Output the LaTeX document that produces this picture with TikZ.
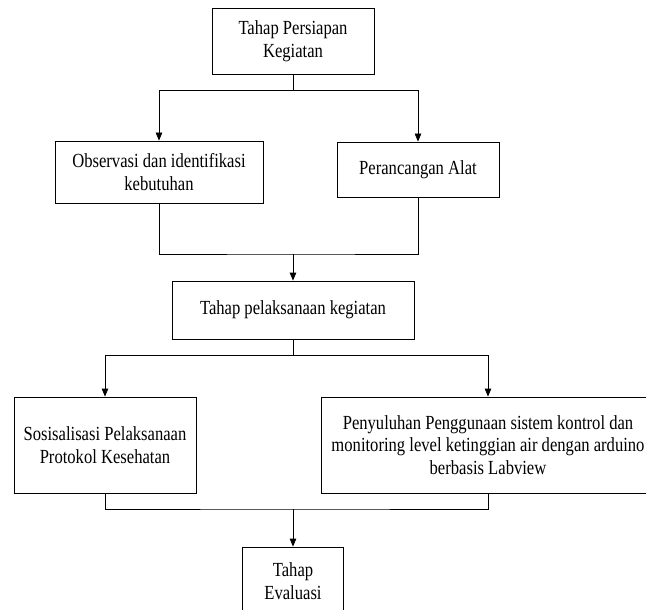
\documentclass[tikz,border=0pt]{standalone}
\usepackage{fontspec}
\setmainfont{Liberation Serif}[FakeStretch=0.83]
\usetikzlibrary{arrows.meta}

\begin{document}
\begin{tikzpicture}[
  x=1pt,
  y=-1pt,
  stage/.style={draw, line width=0.8pt, align=center, inner sep=2pt,
    font=\fontsize{20}{22.5}\selectfont},
  link/.style={line width=0.8pt},
  flow/.style={link, -{Triangle[length=8pt,width=6.5pt]}}
]
\useasboundingbox (0,0) rectangle (646,610);

\node[stage, minimum width=162pt, minimum height=66pt] (prep) at (293,41) {Tahap Persiapan\\Kegiatan};
\node[stage, minimum width=208pt, minimum height=62pt] (obs) at (159,172) {Observasi dan identifikasi\\kebutuhan};
\node[stage, minimum width=162pt, minimum height=55pt] (alat) at (418,169.5) {Perancangan Alat};
\node[stage, minimum width=242pt, minimum height=58pt] (exec) at (293,310) {Tahap pelaksanaan kegiatan};
\node[stage, minimum width=182pt, minimum height=96pt] (sos) at (105,445) {Sosisalisasi Pelaksanaan\\Protokol Kesehatan};
\node[stage, minimum width=334pt, minimum height=96pt] (ext) at (488,445) {Penyuluhan Penggunaan sistem kontrol dan\\monitoring level ketinggian air dengan arduino\\berbasis Labview};
\node[stage, minimum width=101pt, minimum height=68pt] (eval) at (293,581) {Tahap\\Evaluasi};

% split and merge points
\coordinate (s1) at (293,90);
\coordinate (m1) at (293,254);
\coordinate (s2) at (293,355);
\coordinate (m2) at (293,509);

\draw[link] (prep.south) -- (s1);
\draw[flow] (s1) -| (obs.north);
\draw[flow] (s1) -| (alat.north);

\draw[link] (obs.south) |- (m1) -| (alat.south);
\draw[flow] (m1) -- (exec.north);

\draw[link] (exec.south) -- (s2);
\draw[flow] (s2) -| (sos.north);
\draw[flow] (s2) -| (ext.north);

\draw[link] (sos.south) |- (m2) -| (ext.south);
\draw[flow] (m2) -- (eval.north);
\end{tikzpicture}
\end{document}
